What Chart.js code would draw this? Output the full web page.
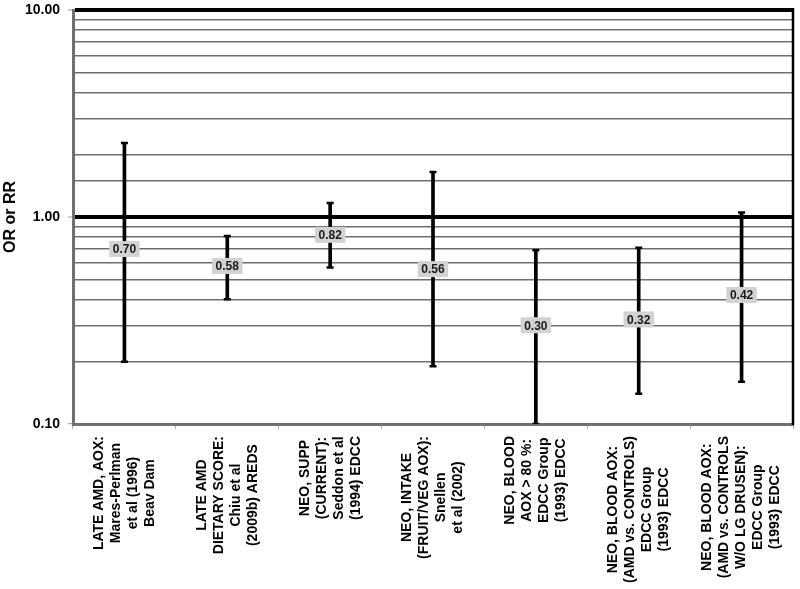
<!DOCTYPE html>
<html>
<head>
<meta charset="utf-8">
<script src="https://cdn.jsdelivr.net/npm/chart.js@4"></script>
<style>
  html, body { margin: 0; padding: 0; background: #fff; }
  #wrap { width: 800px; height: 589px; }
</style>
</head>
<body>
<div id="wrap"><canvas id="chart" width="800" height="589"></canvas></div>
<script>
// Study labels (one array of lines per category)
const categories = [
    ['LATE AMD, AOX:', 'Mares-Perlman', 'et al (1996)', 'Beav Dam'],
    ['LATE AMD', 'DIETARY SCORE:', 'Chiu et al', '(2009b) AREDS'],
    ['NEO, SUPP', '(CURRENT):', 'Seddon et al', '(1994) EDCC'],
    ['NEO, INTAKE', '(FRUIT/VEG AOX):', 'Snellen', 'et al (2002)'],
    ['NEO, BLOOD', 'AOX > 80 %:', 'EDCC Group', '(1993) EDCC'],
    ['NEO, BLOOD AOX:', '(AMD vs. CONTROLS)', 'EDCC Group', '(1993) EDCC'],
    ['NEO, BLOOD AOX:', '(AMD vs. CONTROLS', 'W/O LG DRUSEN):', 'EDCC Group', '(1993) EDCC']
];

// OR / RR estimates with lower and upper confidence limits
const estimates = [0.70, 0.58, 0.82, 0.56, 0.30, 0.32, 0.42];
const lowerCI = [0.20, 0.40, 0.57, 0.19, 0.10, 0.14, 0.16];
const upperCI = [2.28, 0.81, 1.17, 1.65, 0.69, 0.71, 1.05];

// Only these y ticks carry labels
const yTickLabels = [0.1, 1, 10];

const FONT = '"Liberation Sans", Arial, Helvetica, sans-serif';

const isLabeled = v => yTickLabels.some(t => Math.abs(t - v) < 1e-9);
const isMajor = v => Math.abs(v - 1) < 1e-9 || Math.abs(v - 10) < 1e-9;

// Gray value boxes on top of each whisker
const valueBoxes = {
    id: 'valueBoxes',
    afterDatasetsDraw(chart) {
        const ctx = chart.ctx;
        const x = chart.scales.x;
        const y = chart.scales.y;
        ctx.save();
        ctx.font = 'bold 12px ' + FONT;
        ctx.textAlign = 'center';
        ctx.textBaseline = 'middle';
        estimates.forEach((v, i) => {
            const px = x.getPixelForValue(i);
            const py = y.getPixelForValue(v);
            const txt = v.toFixed(2);
            const w = ctx.measureText(txt).width + 7;
            const h = 16;
            ctx.fillStyle = '#d2d2d2';
            ctx.fillRect(px - w / 2, py - h / 2, w, h);
            ctx.fillStyle = '#1a1a1a';
            ctx.fillText(txt, px, py + 1);
        });
        ctx.restore();
    }
};

// Right frame line and vertical, centred multi-line category labels
const frameAndLabels = {
    id: 'frameAndLabels',
    afterDraw(chart) {
        const ctx = chart.ctx;
        const area = chart.chartArea;
        const x = chart.scales.x;
        ctx.save();
        ctx.strokeStyle = '#000';
        ctx.lineWidth = 2.5;
        ctx.beginPath();
        ctx.moveTo(area.right, area.top - 2);
        ctx.lineTo(area.right, area.bottom + 1);
        ctx.stroke();

        ctx.font = 'bold 14px ' + FONT;
        ctx.fillStyle = '#000';
        ctx.textAlign = 'center';
        ctx.textBaseline = 'middle';
        const lineH = 17;
        categories.forEach((lines, i) => {
            const px = x.getPixelForValue(i);
            const maxW = Math.max(...lines.map(l => ctx.measureText(l).width));
            ctx.save();
            ctx.translate(px, area.bottom + 12);
            ctx.rotate(-Math.PI / 2);
            lines.forEach((l, j) => {
                ctx.fillText(l, -maxW / 2, (j - (lines.length - 1) / 2) * lineH);
            });
            ctx.restore();
        });
        ctx.restore();
    }
};

const chart = new Chart(document.getElementById('chart'), {
    type: 'bar',
    data: {
        labels: categories,
        datasets: [
            {
                label: 'CI',
                data: lowerCI.map((l, i) => [l, upperCI[i]]),
                backgroundColor: '#000',
                barThickness: 3,
                borderSkipped: false,
                order: 2
            },
            {
                type: 'line',
                label: 'upper',
                data: upperCI,
                showLine: false,
                pointStyle: 'line',
                pointRadius: 3.5,
                pointBorderWidth: 2.5,
                pointBorderColor: '#000',
                order: 1
            },
            {
                type: 'line',
                label: 'lower',
                data: lowerCI,
                showLine: false,
                pointStyle: 'line',
                pointRadius: 3.5,
                pointBorderWidth: 2.5,
                pointBorderColor: '#000',
                order: 1
            }
        ]
    },
    options: {
        responsive: false,
        animation: false,
        layout: { padding: { top: 10, right: 7, left: 0, bottom: 0 } },
        plugins: {
            legend: { display: false },
            tooltip: { enabled: false }
        },
        scales: {
            x: {
                type: 'category',
                offset: true,
                ticks: { display: false },
                grid: {
                    offset: true,
                    drawOnChartArea: false,
                    drawTicks: true,
                    tickLength: 5,
                    tickColor: '#b0b0b0',
                    tickWidth: 1
                },
                border: { color: '#707070', width: 3 },
                afterFit(scale) {
                    scale.height = 165;
                    scale.paddingLeft = 0;
                    scale.paddingRight = 0;
                }
            },
            y: {
                type: 'logarithmic',
                min: 0.1,
                max: 10,
                title: {
                    display: true,
                    text: 'OR or RR',
                    font: { family: FONT, size: 16, weight: 'bold' },
                    color: '#000',
                    padding: { top: 1, bottom: 0 }
                },
                ticks: {
                    autoSkip: false,
                    padding: 8,
                    color: '#000',
                    font: { family: FONT, size: 14, weight: 'bold' },
                    callback(value) {
                        return isLabeled(value) ? Number(value).toFixed(2) : '';
                    }
                },
                grid: {
                    color: c => isMajor(c.tick.value) ? '#000' : '#6e6e6e',
                    lineWidth: c => isMajor(c.tick.value) ? 4 : 1.4,
                    tickLength: 5,
                    tickColor: c => isLabeled(c.tick.value) ? '#999' : 'rgba(0,0,0,0)',
                    tickWidth: 1
                },
                border: { color: '#707070', width: 3 },
                afterFit(scale) {
                    scale.width = 73;
                    scale.paddingTop = 0;
                    scale.paddingBottom = 0;
                }
            }
        }
    },
    plugins: [valueBoxes, frameAndLabels]
});
</script>
</body>
</html>
